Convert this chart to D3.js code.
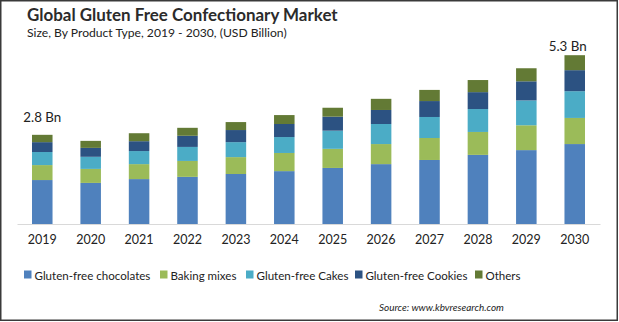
<!DOCTYPE html>
<html>
<head>
<meta charset="utf-8">
<script src="https://cdn.jsdelivr.net/npm/d3@7/dist/d3.min.js"></script>
<style>
  html, body { margin: 0; padding: 0; background: #fff; }
  svg { display: block; font-family: Lato, "Open Sans", "DejaVu Sans", sans-serif; }
</style>
</head>
<body>
<svg id="chart" width="619" height="322"></svg>
<script>
// Market size by product type, USD billion
const years = ["2019","2020","2021","2022","2023","2024","2025","2026","2027","2028","2029","2030"];
const seriesNames = ["Gluten-free chocolates","Baking mixes","Gluten-free Cakes","Gluten-free Cookies","Others"];
const chocolates = [1.38, 1.29, 1.41, 1.48, 1.57, 1.66, 1.76, 1.88, 2.01, 2.17, 2.32, 2.51];
const bakingMixes = [0.47, 0.44, 0.47, 0.50, 0.53, 0.57, 0.60, 0.63, 0.69, 0.72, 0.78, 0.82];
const cakes = [0.41, 0.38, 0.41, 0.44, 0.47, 0.50, 0.57, 0.63, 0.66, 0.72, 0.78, 0.84];
const cookies = [0.31, 0.28, 0.31, 0.35, 0.38, 0.41, 0.44, 0.44, 0.50, 0.53, 0.60, 0.66];
const others = [0.23, 0.22, 0.25, 0.25, 0.25, 0.28, 0.28, 0.35, 0.35, 0.38, 0.41, 0.47];
const colors = ["#4f81bd", "#9bbb59", "#4bacc6", "#2c5282", "#637a35"];
const endLabels = ["2.8 Bn", "5.3 Bn"];
const endYears = ["2019", "2030"];

const seriesValues = [chocolates, bakingMixes, cakes, cookies, others];
const rows = years.map((y, i) => {
  const r = { year: y };
  seriesNames.forEach((s, k) => { r[s] = seriesValues[k][i]; });
  return r;
});

const svg = d3.select("#chart");
const baseline = 224;

// shrink or grow a text's font size so it spans the given width
function fitWidth(sel, width) {
  sel.each(function () {
    const fs = parseFloat(this.getAttribute("font-size"));
    const w = this.getComputedTextLength();
    if (w > 0) this.setAttribute("font-size", (fs * width / w).toFixed(2));
  });
  return sel;
}

const x = d3.scaleBand()
  .domain(years)
  .range([17, 600])
  .paddingInner(0.576)
  .paddingOuter(0.31);

const y = d3.scaleLinear()
  .domain([0, 6])
  .range([baseline, baseline - 6 * 31.85]);

const layers = d3.stack().keys(seriesNames)(rows);

// frame
svg.append("rect")
  .attr("x", 0.75).attr("y", 0.75)
  .attr("width", 616.5).attr("height", 319.5)
  .attr("fill", "none")
  .attr("stroke", "#3a3a3a")
  .attr("stroke-width", 1.5);

// titles
svg.append("text")
  .attr("x", 27).attr("y", 21)
  .attr("font-size", 16)
  .attr("font-weight", 700)
  .attr("fill", "#2b2b2b")
  .text("Global Gluten Free Confectionary Market")
  .call(fitWidth, 311);

svg.append("text")
  .attr("x", 27).attr("y", 36.5)
  .attr("font-size", 12)
  .attr("fill", "#222")
  .text("Size, By Product Type,  2019 - 2030, (USD Billion)")
  .call(fitWidth, 260);

// stacked bars
svg.append("g")
  .selectAll("g")
  .data(layers)
  .join("g")
  .attr("fill", (d, i) => colors[i])
  .selectAll("rect")
  .data(d => d)
  .join("rect")
  .attr("x", d => x(d.data.year))
  .attr("y", d => y(d[1]))
  .attr("width", x.bandwidth())
  .attr("height", d => y(d[0]) - y(d[1]));

// x axis
const xAxis = svg.append("g")
  .attr("transform", `translate(0,${baseline})`)
  .call(d3.axisBottom(x).tickSize(0).tickPadding(11));
xAxis.select(".domain").attr("stroke", "#d9d9d9").attr("stroke-width", 1);
xAxis.selectAll("text")
  .attr("font-size", 13.5)
  .attr("font-family", "Lato, \"Open Sans\", sans-serif")
  .attr("fill", "#222")
  .call(fitWidth, 29);

// total labels over the first and last bars
const totals = {};
rows.forEach(r => { totals[r.year] = d3.sum(seriesNames, s => r[s]); });
const labelShift = [[0, -13], [-7, -4]];
svg.append("g")
  .selectAll("text")
  .data(endLabels)
  .join("text")
  .attr("x", (d, i) => x(endYears[i]) + x.bandwidth() / 2 + labelShift[i][0])
  .attr("y", (d, i) => y(totals[endYears[i]]) + labelShift[i][1])
  .attr("text-anchor", "middle")
  .attr("font-size", 13.5)
  .attr("fill", "#222")
  .text(d => d)
  .call(fitWidth, 38);

// legend
const legendX = [24, 160, 246, 355, 475];
const legendW = [116, 66, 92, 102, 35];
const legend = svg.append("g");
seriesNames.forEach((s, i) => {
  legend.append("rect")
    .attr("x", legendX[i]).attr("y", 270.5)
    .attr("width", 7.5).attr("height", 8)
    .attr("fill", colors[i]);
  legend.append("text")
    .attr("x", legendX[i] + 10.5).attr("y", 279.5)
    .attr("font-size", 13)
    .attr("fill", "#222")
    .text(s)
    .call(fitWidth, legendW[i]);
});

// source note
svg.append("text")
  .attr("x", 379).attr("y", 311)
  .attr("font-size", 11)
  .attr("font-style", "italic")
  .attr("fill", "#222")
  .text("Source: www.kbvresearch.com")
  .call(fitWidth, 125);
</script>
</body>
</html>
